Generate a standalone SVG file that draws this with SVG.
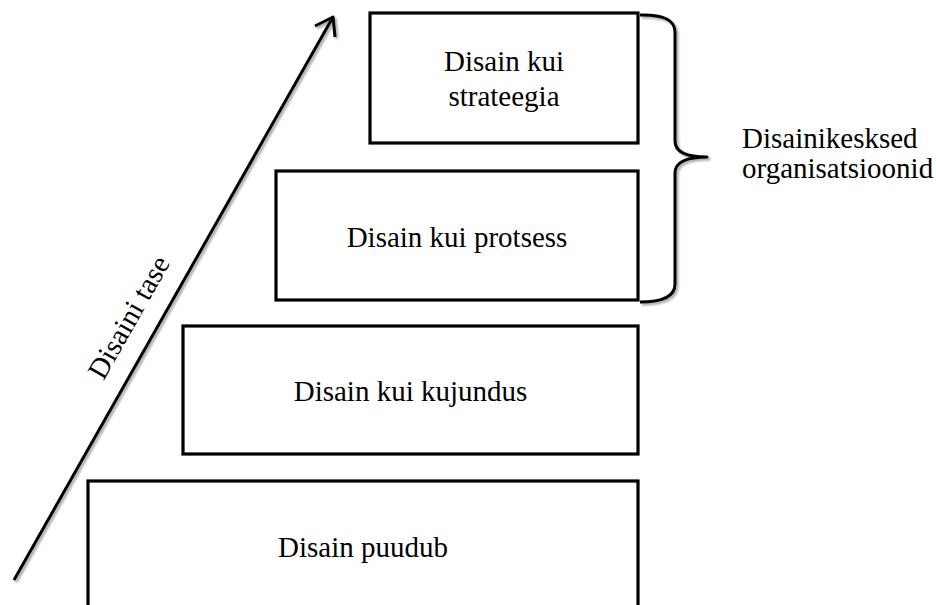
<svg xmlns="http://www.w3.org/2000/svg" width="936" height="605" viewBox="0 0 936 605">
  <style>
    .box { fill: #ffffff; stroke: #000000; stroke-width: 3.2; }
    .lbl { font-family: "Liberation Serif", "Times New Roman", serif; font-size: 29px; fill: #000000; }
    .mid { text-anchor: middle; }
    .line { fill: none; stroke: #000000; stroke-width: 3; stroke-linejoin: round; }
  </style>
  <defs>
    <filter id="shadow" x="-10%" y="-10%" width="130%" height="130%">
      <feDropShadow dx="2" dy="2" stdDeviation="1.2" flood-color="#000000" flood-opacity="0.35"/>
    </filter>
  </defs>
  <rect width="936" height="605" fill="#ffffff"/>

  <g id="connectors">
    <g filter="url(#shadow)">
      <line class="line" x1="14" y1="580" x2="333" y2="17"/>
      <polyline class="line" points="315,26 333,17 335,37"/>
    </g>
    <path class="line" filter="url(#shadow)" d="M640,15 Q675,14 675,32 L675,141 Q675,157 707,157 Q675,157 675,173 L675,284 Q675,302 640,302"/>
  </g>

  <g id="node-strateegia">
    <rect class="box" x="370" y="13" width="268" height="130"/>
    <text class="lbl mid" x="504" y="71">Disain kui</text>
    <text class="lbl mid" x="504" y="106">strateegia</text>
  </g>

  <g id="node-protsess">
    <rect class="box" x="276" y="171" width="362" height="129"/>
    <text class="lbl mid" x="457" y="247">Disain kui protsess</text>
  </g>

  <g id="node-kujundus">
    <rect class="box" x="183" y="326" width="455" height="128"/>
    <text class="lbl mid" x="410.5" y="401">Disain kui kujundus</text>
  </g>

  <g id="node-puudub">
    <rect class="box" x="88" y="481" width="550" height="140"/>
    <text class="lbl mid" x="363" y="557">Disain puudub</text>
  </g>

  <g id="label-tase">
    <text class="lbl mid" transform="translate(137,322) rotate(-60.4)">Disaini tase</text>
  </g>

  <g id="label-organisatsioonid">
    <text class="lbl" x="742" y="148">Disainikesksed</text>
    <text class="lbl" x="742" y="178">organisatsioonid</text>
  </g>
</svg>
